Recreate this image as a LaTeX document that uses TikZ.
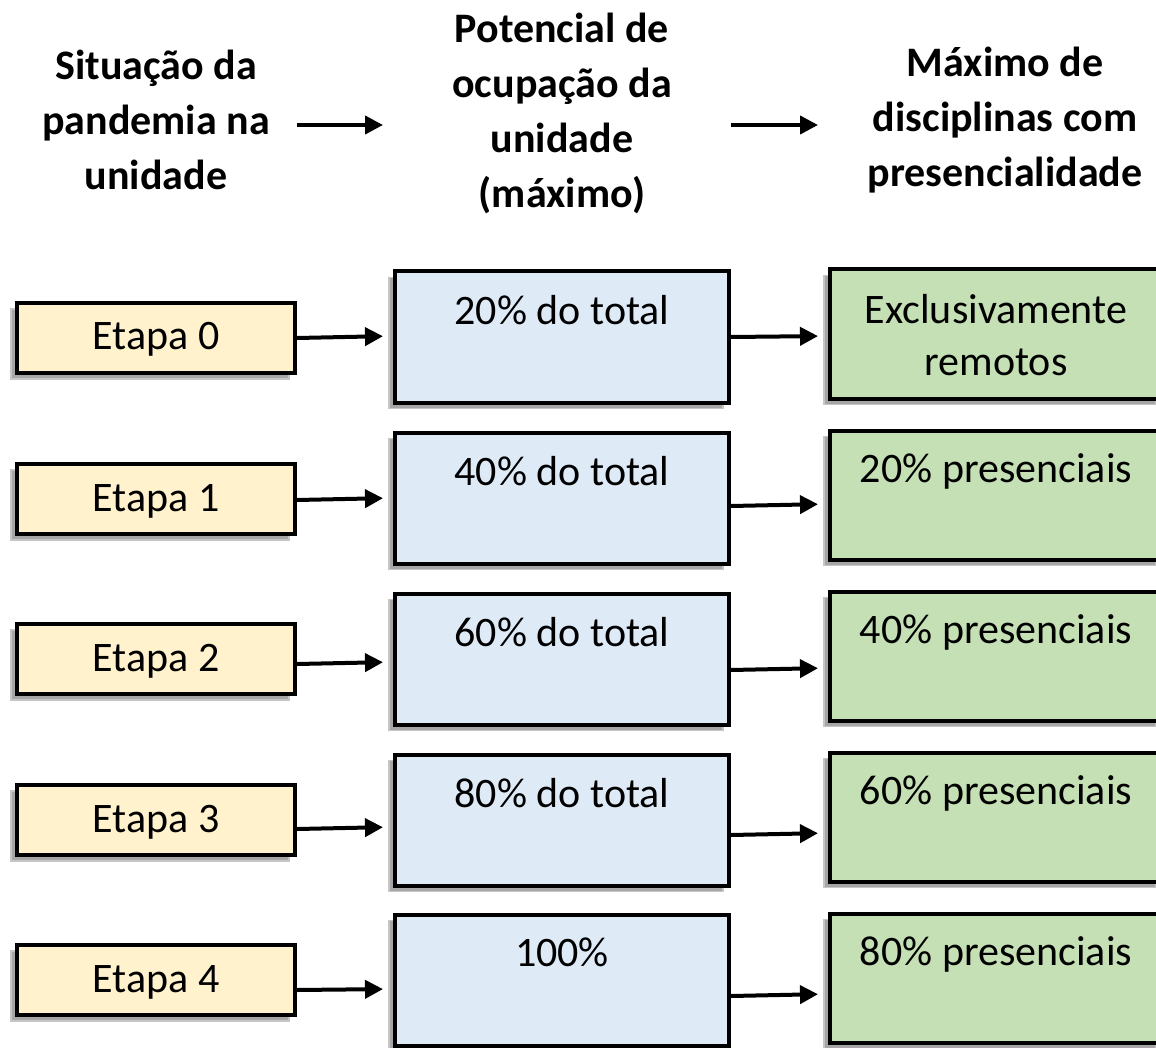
\documentclass[tikz,border=0pt]{standalone}
\usepackage{fontspec}
\setmainfont{Carlito}
\usepackage{tikz}
\usetikzlibrary{arrows.meta,shadows}
\definecolor{yel}{HTML}{FFF2CC}
\definecolor{blu}{HTML}{DEEBF7}
\definecolor{grn}{HTML}{C5E0B4}
\definecolor{shade}{HTML}{A6A6A6}
\newcommand\cellfont{\fontsize{21}{26}\selectfont}
\newcommand\headfont{\fontsize{21}{27.5}\selectfont\bfseries}
\tikzset{
  box/.style={draw=black, line width=2pt,
    drop shadow={shadow xshift=-3pt, shadow yshift=-3pt, fill=shade, draw=gray!45, line width=0.6pt, opacity=1}},
  etapa/.style={box, fill=yel, minimum width=139pt, minimum height=35pt, font=\cellfont, text height=1.2em, text depth=0pt},
  ocup/.style={box, fill=blu, minimum width=167pt, minimum height=65.5pt},
  maxd/.style={box, fill=grn, minimum width=166pt, minimum height=64.5pt},
  inlab/.style={anchor=north, inner sep=0pt, yshift=-12.5pt, font=\cellfont, align=center},
  head/.style={anchor=north, inner sep=0pt, font=\headfont, align=center},
  conn/.style={draw=black, line width=2pt, -{Triangle[length=9pt,width=9pt]}, shorten >=5pt},
}

\begin{document}
\begin{tikzpicture}[x=0.5pt, y=-0.5pt]
  \useasboundingbox (0,0) rectangle (1156,1048);
  \clip (0,0) rectangle (1156,1048);

  % column headers
  \node[head] (hsit) at (156,50) {Situação da\\pandemia na\\unidade};
  \node[head] (hpot) at (562,13) {Potencial de\\ocupação da\\unidade\\(máximo)};
  \node[head] (hmax) at (1005,47) {Máximo de\\disciplinas com\\presencialidade};
  \coordinate (hrow) at (0,125);

  % situacao
  \node[etapa] (e0) at (156,338) {Etapa 0};
  \node[etapa] (e1) at (156,499) {Etapa 1};
  \node[etapa] (e2) at (156,659) {Etapa 2};
  \node[etapa] (e3) at (156,820) {Etapa 3};
  \node[etapa] (e4) at (156,980) {Etapa 4};

  % ocupacao
  \node[ocup, label={[inlab]north:20\% do total}] (p0) at (562,337) {};
  \node[ocup, label={[inlab]north:40\% do total}] (p1) at (562,498) {};
  \node[ocup, label={[inlab]north:60\% do total}] (p2) at (562,659) {};
  \node[ocup, label={[inlab]north:80\% do total}] (p3) at (562,820) {};
  \node[ocup, label={[inlab]north:100\%}] (p4) at (562,980) {};

  % presencialidade
  \node[maxd, label={[inlab, yshift=-0.5pt]north:{Exclusivamente\\remotos}}] (m0) at (996,334) {};
  \node[maxd, label={[inlab]north:20\% presenciais}] (m1) at (996,495) {};
  \node[maxd, label={[inlab]north:40\% presenciais}] (m2) at (996,656) {};
  \node[maxd, label={[inlab]north:60\% presenciais}] (m3) at (996,817) {};
  \node[maxd, label={[inlab]north:80\% presenciais}] (m4) at (996,978) {};

  \draw[conn] (e0.east |- hrow) -- (p0.west |- hrow);
  \draw[conn] (p0.east |- hrow) -- (m0.west |- hrow);

  \draw[conn] (e0.east) -- ([yshift=0.5pt]p0.west);
  \draw[conn] ([yshift=-0.5pt]e1.east) -- ([yshift=0pt]p1.west);
  \draw[conn] ([yshift=-2.5pt]e2.east) -- ([yshift=-1.5pt]p2.west);
  \draw[conn] ([yshift=-4.5pt]e3.east) -- ([yshift=-3.5pt]p3.west);
  \draw[conn] ([yshift=-5pt]e4.east) -- ([yshift=-4.5pt]p4.west);

  \draw[conn] (p0.east) -- ([yshift=-1pt]m0.west);
  \draw[conn] ([yshift=-4pt]p1.east) -- ([yshift=-4.5pt]m1.west);
  \draw[conn] ([yshift=-5.5pt]p2.east) -- ([yshift=-6pt]m2.west);
  \draw[conn] ([yshift=-7.5pt]p3.east) -- ([yshift=-8pt]m3.west);
  \draw[conn] ([yshift=-8pt]p4.east) -- ([yshift=-8pt]m4.west);
\end{tikzpicture}
\end{document}
